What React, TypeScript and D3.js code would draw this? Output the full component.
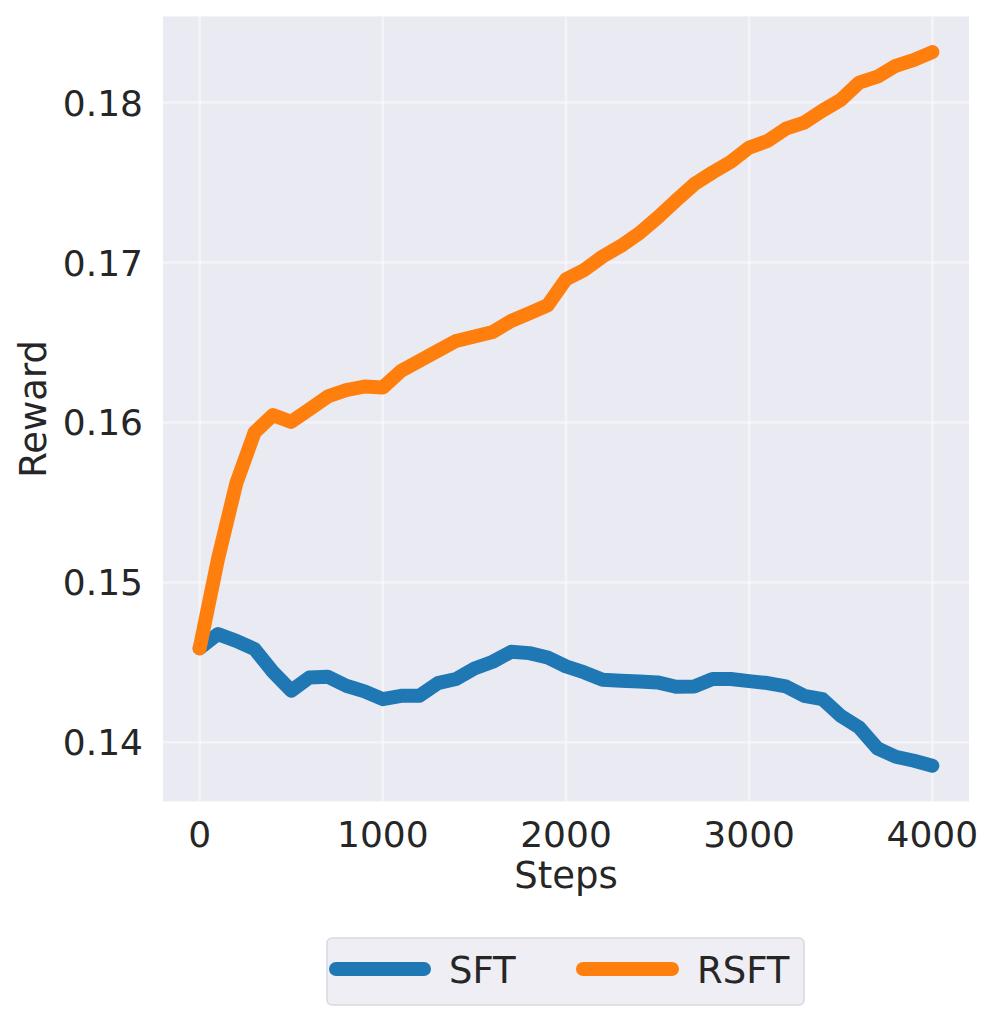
import React from 'react'
import * as d3 from 'd3'

// steps logged every 100
const steps = d3.range(0, 4001, 100)

const sftReward = [
  0.14588, 0.14677, 0.14635, 0.14583, 0.14441, 0.14323, 0.14406, 0.1441, 0.14354, 0.14319,
  0.1427, 0.14291, 0.14291, 0.1437, 0.14396, 0.14462, 0.14504, 0.14566, 0.14558, 0.14531,
  0.14475, 0.14437, 0.14391, 0.14385, 0.14381, 0.14375, 0.14348, 0.1435, 0.14396, 0.14396,
  0.14383, 0.14371, 0.1435, 0.14291, 0.1427, 0.14166, 0.14094, 0.13963, 0.1391, 0.13885,
  0.13854,
]

const rsftReward = [
  0.14588, 0.15146, 0.1562, 0.15938, 0.16046, 0.16004, 0.16083, 0.16163, 0.16202, 0.16225,
  0.16219, 0.16323, 0.16385, 0.16448, 0.1651, 0.16538, 0.16566, 0.16635, 0.16683, 0.16733,
  0.16896, 0.16954, 0.17038, 0.17104, 0.17183, 0.17281, 0.17387, 0.1749, 0.17563, 0.1763,
  0.17719, 0.1776, 0.17837, 0.17875, 0.1795, 0.18017, 0.18125, 0.18162, 0.1823, 0.18267,
  0.18316,
]

const xTicks = [0, 1000, 2000, 3000, 4000]
const yTicks = [0.14, 0.15, 0.16, 0.17, 0.18]

const seriesNames = ['SFT', 'RSFT']
const seriesColors = ['#1f77b4', '#ff7f0e']

const W = 997
const H = 1022
const plot = { left: 163, right: 969, top: 16.4, bottom: 801.4 }
const font = 'DejaVu Sans, sans-serif'
const textColor = '#262626'

export default function App() {
  const allY = [...sftReward, ...rsftReward]
  const [yMin, yMax] = d3.extent(allY) as [number, number]
  const yPad = (yMax - yMin) * 0.05
  const xPad = 4000 * 0.05

  const x = d3.scaleLinear().domain([0 - xPad, 4000 + xPad]).range([plot.left, plot.right])
  const y = d3.scaleLinear().domain([yMin - yPad, yMax + yPad]).range([plot.bottom, plot.top])

  const line = d3
    .line<number>()
    .x((_, i) => x(steps[i]))
    .y((d) => y(d))

  const series = [sftReward, rsftReward]
  const legendHandles = [
    { x1: 336, x2: 424, tx: 449 },
    { x1: 583, x2: 672, tx: 697 },
  ]

  return (
    <svg
      width={W}
      height={H}
      style={{ position: 'absolute', left: 0, top: 0, background: '#fff' }}
      fontFamily={font}
    >
      <rect
        x={plot.left}
        y={plot.top}
        width={plot.right - plot.left}
        height={plot.bottom - plot.top}
        fill="#EAEAF2"
      />
      {xTicks.map((t) => (
        <line
          key={'gx' + t}
          x1={x(t)}
          x2={x(t)}
          y1={plot.top}
          y2={plot.bottom}
          stroke="#fff"
          strokeOpacity={0.45}
          strokeWidth={2.5}
        />
      ))}
      {yTicks.map((t) => (
        <line
          key={'gy' + t}
          x1={plot.left}
          x2={plot.right}
          y1={y(t)}
          y2={y(t)}
          stroke="#fff"
          strokeOpacity={0.45}
          strokeWidth={2.5}
        />
      ))}

      {series.map((s, i) => (
        <path
          key={seriesNames[i]}
          d={line(s) || ''}
          fill="none"
          stroke={seriesColors[i]}
          strokeWidth={14}
          strokeLinecap="round"
          strokeLinejoin="round"
        />
      ))}

      {xTicks.map((t) => (
        <text key={'tx' + t} x={x(t)} y={847} textAnchor="middle" fontSize={36} fill={textColor}>
          {t}
        </text>
      ))}
      {yTicks.map((t) => (
        <text
          key={'ty' + t}
          x={143}
          y={y(t)}
          dy="0.36em"
          textAnchor="end"
          fontSize={36}
          fill={textColor}
        >
          {d3.format('.2f')(t)}
        </text>
      ))}

      <text x={(plot.left + plot.right) / 2} y={888} textAnchor="middle" fontSize={37} fill={textColor}>
        Steps
      </text>
      <text
        transform={`translate(46, ${(plot.top + plot.bottom) / 2}) rotate(-90)`}
        textAnchor="middle"
        fontSize={37}
        fill={textColor}
      >
        Reward
      </text>

      <rect x={327} y={938} width={477} height={67} rx={5} fill="#EEEEF4" stroke="#d9d9dd" strokeWidth={1.5} />
      {legendHandles.map((h, i) => (
        <g key={'lg' + i}>
          <line
            x1={h.x1}
            x2={h.x2}
            y1={969}
            y2={969}
            stroke={seriesColors[i]}
            strokeWidth={14}
            strokeLinecap="round"
          />
          <text x={h.tx} y={983} fontSize={37} fill={textColor}>
            {seriesNames[i]}
          </text>
        </g>
      ))}
    </svg>
  )
}
